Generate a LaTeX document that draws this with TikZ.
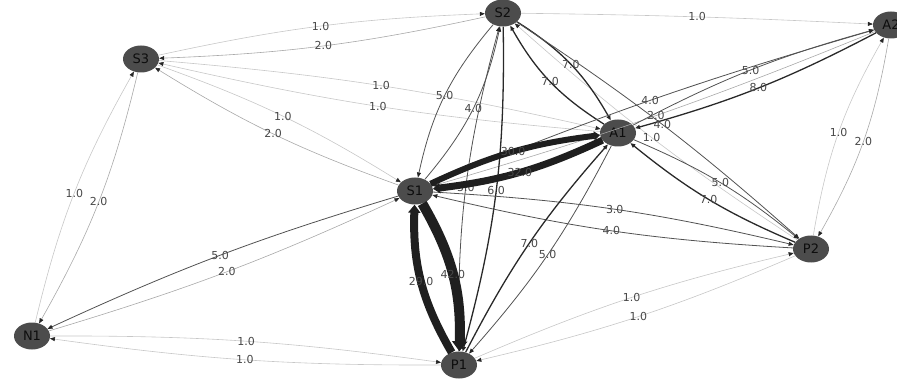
\documentclass[tikz,border=0pt]{standalone}
\usepackage{fontspec}
\setsansfont{DejaVu Sans}
\usetikzlibrary{arrows.meta,shapes.geometric}
\definecolor{nodegray}{HTML}{4C4C4C}
\tikzset{
  vertex/.style={ellipse,fill=nodegray,minimum width=36pt,minimum height=27pt,inner sep=0pt,
    font=\sffamily\fontsize{13}{13}\selectfont,text=black!95},
  lbl/.style={font=\sffamily\fontsize{11}{11}\selectfont,text=black!72,inner sep=0pt},
  link/.style={-{Triangle[length=5pt,width=4pt,color=black!85]}},
  wa/.style={link,draw=black!22,line width=.6pt},
  wb/.style={link,draw=black!34,line width=.6pt},
  wc/.style={link,draw=black!68,line width=.8pt},
  wd/.style={link,draw=black!84,line width=1.3pt},
  we/.style={-{Triangle[length=0pt 1,width=0pt 1.5,color=black!88]},draw=black!88,line width=#1},
}
\begin{document}
\begin{tikzpicture}[x=1pt,y=-1pt]
\useasboundingbox (0,0) rectangle (897,382);
% nodes
\node[vertex] (S2) at (503,13) {S2};
\node[vertex] (A2) at (891,25) {A2};
\node[vertex] (S3) at (141,59) {S3};
\node[vertex] (A1) at (618,133) {A1};
\node[vertex] (S1) at (415,191) {S1};
\node[vertex] (P2) at (811,249) {P2};
\node[vertex] (N1) at (32,336) {N1};
\node[vertex] (P1) at (459,365) {P1};
% weight 1 and 2
\draw[wa] (S3) to[bend left=5] node[lbl] (l1) {1.0} (S2);
\draw[wb] (S2) to[bend left=5] node[lbl] (l2) {2.0} (S3);
\draw[wa] (S2) to[bend left=1] node[lbl] (l3) {1.0} (A2);
\draw[wa] (S3) to[bend left=4] node[lbl] (l4) {1.0} (A1);
\draw[wa] (A1) to[bend left=4] node[lbl] (l5) {1.0} (S3);
\draw[wa] (S3) to[bend left=6] node[lbl] (l6) {1.0} (S1);
\draw[wb] (S1) to[bend left=6] node[lbl] (l7) {2.0} (S3);
\draw[wa] (N1) to[bend left=8] node[lbl] (l8) {1.0} (S3);
\draw[wb] (S3) to[bend left=8] node[lbl] (l9) {2.0} (N1);
\draw[wb] (N1) to[bend right=4] node[lbl] (l11) {2.0} (S1);
\draw[wa] (N1) to[bend left=4] node[lbl] (l12) {1.0} (P1);
\draw[wa] (P1) to[bend left=4] node[lbl] (l13) {1.0} (N1);
\draw[wb] (A2) to[bend left=3] node[lbl] (l31) {2.0} (S1);
\draw[wa] (P2) to[bend left=4] node[lbl] (l33) {1.0} (S2);
\draw[wb] (A2) to[bend left=10] node[lbl] (l36) {2.0} (P2);
\draw[wa] (P2) to[bend left=10] node[lbl] (l37) {1.0} (A2);
\draw[wa] (P1) to[bend left=5] node[lbl] (l38) {1.0} (P2);
\draw[wa] (P2) to[bend left=5] node[lbl] (l39) {1.0} (P1);
% weight 3 to 8
\draw[wc] (S1) to[bend right=4] node[lbl] (l10) {5.0} (N1);
\draw[wc] (S2) to[bend right=14] node[lbl] (l14) {5.0} (S1);
\draw[wc] (S1) to[bend right=14] node[lbl] (l15) {4.0} (S2);
\draw[wd] (S2) to[bend left=14] node[lbl] (l16) {7.0} (A1);
\draw[wd] (A1) to[bend left=14] node[lbl] (l17) {7.0} (S2);
\draw[wd] (S2) to[bend left=8] node[lbl] (l18) {6.0} (P1);
\draw[wc] (P1) to[bend left=8] node[lbl] (l19) {5.0} (S2);
\draw[wc] (S1) to[bend left=5] node[lbl] (l24) {3.0} (P2);
\draw[wc] (P2) to[bend left=5] node[lbl] (l25) {4.0} (S1);
\draw[wc] (A1) to[bend left=7] node[lbl] (l26) {5.0} (P1);
\draw[wd] (P1) to[bend left=7] node[lbl] (l27) {7.0} (A1);
\draw[wc] (A1) to[bend left=6] node[lbl] (l28) {5.0} (A2);
\draw[wd] (A2) to[bend left=6] node[lbl] (l29) {8.0} (A1);
\draw[wc] (S1) to[bend left=3] node[lbl] (l30) {4.0} (A2);
\draw[wc] (S2) to[bend left=4] node[lbl] (l32) {4.0} (P2);
\draw[wc] (A1) to[bend left=8] node[lbl] (l34) {5.0} (P2);
\draw[wd] (P2) to[bend left=8] node[lbl] (l35) {7.0} (A1);
% heavy ones
\draw[we=6pt] (S1) to[bend left=9] node[lbl] (l20) {30.0} (A1);
\draw[we=7pt] (A1) to[bend left=9] node[lbl] (l21) {32.0} (S1);
\draw[we=8pt] (P1) to[bend left=16] node[lbl] (l22) {29.0} (S1);
\draw[we=10pt] (S1) to[bend left=16] node[lbl] (l23) {42.0} (P1);
\end{tikzpicture}
\end{document}
